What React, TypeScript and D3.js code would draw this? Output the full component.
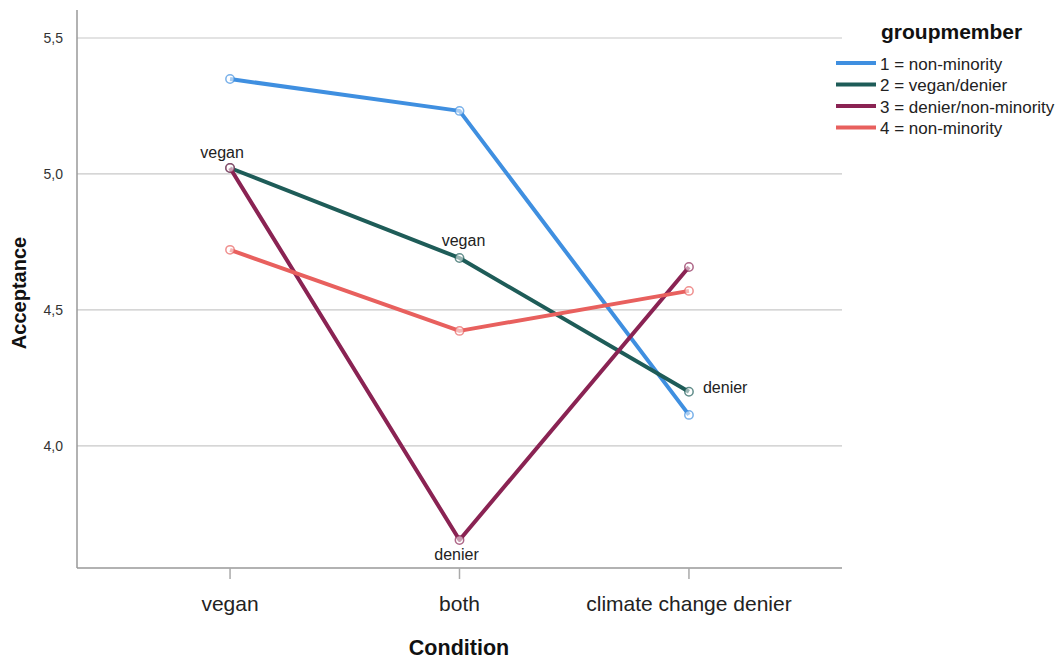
import React from "react";
import * as d3 from "d3";

const conditions = ["vegan", "both", "climate change denier"];
const seriesNames = ["1 = non-minority", "2 = vegan/denier", "3 = denier/non-minority", "4 = non-minority"];
const seriesColors = ["#3f8fe0", "#1e5c58", "#8a2353", "#e8605e"];
const s1 = [5.349, 5.232, 4.114];
const s2 = [5.022, 4.691, 4.199];
const s3 = [5.022, 3.654, 4.658];
const s4 = [4.721, 4.423, 4.57];
const seriesValues = [s1, s2, s3, s4];
const yTicks = [4.0, 4.5, 5.0, 5.5];
const pointLabels = [
  { series: 1, cond: 0, text: "vegan", dx: -8, dy: -14, anchor: "middle" },
  { series: 1, cond: 1, text: "vegan", dx: 4, dy: -16, anchor: "middle" },
  { series: 2, cond: 1, text: "denier", dx: -3, dy: 16, anchor: "middle" },
  { series: 1, cond: 2, text: "denier", dx: 14, dy: -3, anchor: "start" },
];

export default function App() {
  const W = 1063, H = 659;
  const left = 77, right = 842, top = 10, bottom = 568;
  const x = d3.scalePoint<string>().domain(conditions).range([left, right]).padding(0.667);
  const y = d3.scaleLinear().domain([3.551, 5.603]).range([bottom, top]);
  const line = d3.line<number>().x((_, i) => x(conditions[i])!).y((d) => y(d));
  const font = "'Liberation Sans', Arial, sans-serif";
  return (
    <svg width={W} height={H} style={{ position: "absolute", left: 0, top: 0, fontFamily: font }}>
      <rect x={0} y={0} width={W} height={H} fill="#fff" />
      {yTicks.map((t) => (
        <g key={t}>
          <line x1={left} x2={right} y1={y(t)} y2={y(t)} stroke="#c8c8c8" strokeWidth={1.2} />
          <text x={63} y={y(t)} dy="0.35em" textAnchor="end" fontSize={14} fill="#333">
            {d3.format(".1f")(t).replace(".", ",")}
          </text>
        </g>
      ))}
      <line x1={left} x2={left} y1={top} y2={bottom} stroke="#999" strokeWidth={1.5} />
      <line x1={left} x2={right} y1={bottom} y2={bottom} stroke="#999" strokeWidth={1.5} />
      {conditions.map((c) => (
        <g key={c}>
          <line x1={x(c)} x2={x(c)} y1={bottom} y2={bottom + 11} stroke="#aaa" strokeWidth={1.5} />
          <text x={x(c)} y={611} textAnchor="middle" fontSize={21} fill="#222">{c}</text>
        </g>
      ))}
      <text x={459} y={655} textAnchor="middle" fontSize={21.5} fontWeight="bold" fill="#111">Condition</text>
      <text transform={`translate(26,${293}) rotate(-90)`} textAnchor="middle" fontSize={20} fontWeight="bold" fill="#111">Acceptance</text>
      {seriesValues.map((vals, si) => (
        <g key={si}>
          <path d={line(vals)!} fill="none" stroke={seriesColors[si]} strokeWidth={4} strokeLinejoin="round" />
          {vals.map((v, i) => (
            <circle key={i} cx={x(conditions[i])} cy={y(v)} r={4.2} fill="#fff" fillOpacity={0.55} stroke={seriesColors[si]} strokeOpacity={0.7} strokeWidth={1.5} />
          ))}
        </g>
      ))}
      {pointLabels.map((p, i) => (
        <text key={i} x={x(conditions[p.cond])! + p.dx} y={y(seriesValues[p.series][p.cond]) + p.dy} textAnchor={p.anchor as any} dominantBaseline="middle" fontSize={16} fill="#222">
          {p.text}
        </text>
      ))}
      <text x={881} y={39} fontSize={21} fontWeight="bold" fill="#111">groupmember</text>
      {seriesNames.map((n, i) => (
        <g key={n}>
          <line x1={836} x2={876} y1={63 + i * 21.5} y2={63 + i * 21.5} stroke={seriesColors[i]} strokeWidth={4} />
          <text x={880} y={64 + i * 21.5} dy="0.35em" fontSize={17} fill="#222">{n}</text>
        </g>
      ))}
    </svg>
  );
}
